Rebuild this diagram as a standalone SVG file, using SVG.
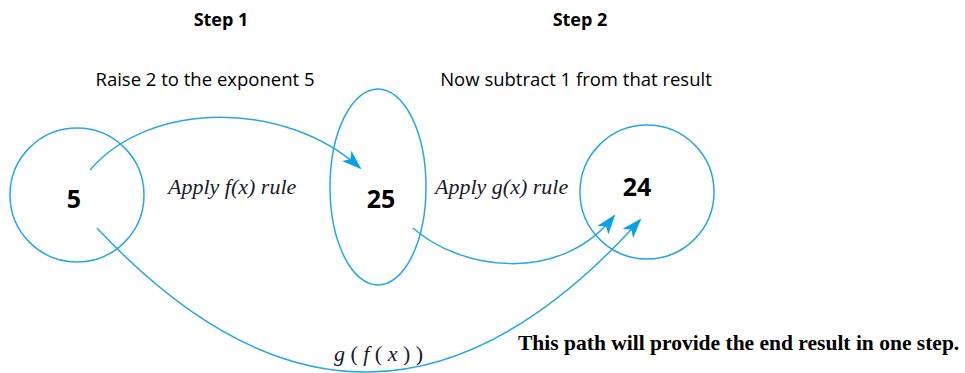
<svg xmlns="http://www.w3.org/2000/svg" width="965" height="373" viewBox="0 0 965 373">
<style>
.node{fill:none;stroke:#2aa6e3;stroke-width:1.5}
.edge{fill:none;stroke:#2aa6e3;stroke-width:1.5}
.num{font-family:"Open Sans","Liberation Sans",sans-serif;font-weight:bold;font-size:25px;fill:#000;text-anchor:middle}
.hd{font-family:"Open Sans","Liberation Sans",sans-serif;font-weight:bold;font-size:18px;fill:#000;text-anchor:middle}
.sub{font-family:"Open Sans","Liberation Sans",sans-serif;font-size:18.5px;fill:#000;text-anchor:middle}
.lab{font-family:"Liberation Serif",serif;font-style:italic;font-size:22px;fill:#1a1a2a}
.up{font-style:normal}
.note{font-family:"Liberation Serif",serif;font-weight:bold;font-size:21.5px;fill:#000}
</style>
<defs>
<marker id="ah" viewBox="0 0 20 14" refX="18" refY="7" markerWidth="20" markerHeight="14" markerUnits="userSpaceOnUse" orient="auto">
<path d="M0,0 L20,7 L0,14 L5,7 Z" fill="#0aa0e6"/>
</marker>
</defs>
<text class="hd" x="221" y="26">Step 1</text>
<text class="hd" x="580" y="26">Step 2</text>
<text class="sub" x="205" y="86">Raise 2 to the exponent 5</text>
<text class="sub" x="576" y="86">Now subtract 1 from that result</text>
<g id="node-5">
<circle class="node" cx="77" cy="195" r="67"/>
<text class="num" x="74" y="208">5</text>
</g>
<g id="node-25">
<ellipse class="node" cx="378" cy="187" rx="48" ry="98"/>
<text class="num" x="381" y="208">25</text>
</g>
<g id="node-24">
<circle class="node" cx="647" cy="192" r="67"/>
<text class="num" x="637" y="196">24</text>
</g>
<g id="connectors">
<path class="edge" d="M90,170 C150,100 285,100 360,168" marker-end="url(#ah)"/>
<path class="edge" d="M413,228 C460,270 560,285 614,216" marker-end="url(#ah)"/>
<path class="edge" d="M97,228 Q370,520 640,220" marker-end="url(#ah)"/>
</g>
<text class="lab" x="168" y="194">Apply f(x) rule</text>
<text class="lab" x="435" y="194">Apply g(x) rule</text>
<text class="lab" x="334" y="361" font-size="26" textLength="89" lengthAdjust="spacing">g<tspan class="up">(</tspan>f<tspan class="up">(</tspan>x<tspan class="up">))</tspan></text>
<text class="note" x="518" y="350">This path will provide the end result in one step.</text>
</svg>
